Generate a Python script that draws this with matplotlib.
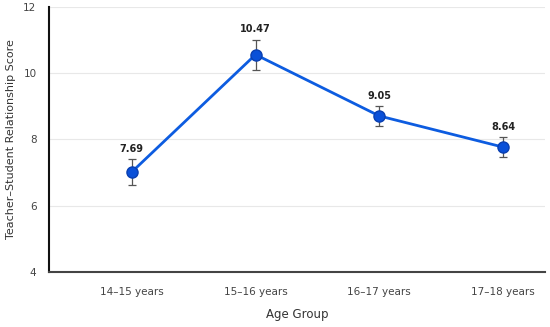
import matplotlib
matplotlib.use("Agg")
import matplotlib.pyplot as plt

categories = ["14–15 years", "15–16 years", "16–17 years", "17–18 years"]
scores = [7.02, 10.56, 8.71, 7.77]
errors = [0.38, 0.45, 0.29, 0.30]
labels = ["7.69", "10.47", "9.05", "8.64"]
yticks = [4, 6, 8, 10, 12]

plt.rcParams['font.family'] = ['DejaVu Sans']
fig = plt.figure(figsize=(5.5, 3.27), dpi=100)
ax = fig.add_axes([0.089, 0.168, 0.902, 0.811])

x = list(range(len(categories)))
ax.errorbar(x, scores, yerr=errors, fmt='none', ecolor='#555555', elinewidth=0.9,
            capsize=3, capthick=0.9, zorder=3)
ax.plot(x, scores, color='#0d5ce0', lw=2.0, marker='o', markersize=8,
        markerfacecolor='#0a50d8', markeredgecolor='#0a3fb0', markeredgewidth=1, zorder=4)
for xi, s, e, lab in zip(x, scores, errors, labels):
    ax.annotate(lab, (xi, s + e), xytext=(0, 4), textcoords='offset points',
                ha='center', va='bottom', fontsize=7, fontweight='bold', color='#222222')

ax.set_xlim(-0.67, 3.34)
ax.set_ylim(4, 12)
ax.set_yticks(yticks)
ax.set_xticks(x)
ax.set_xticklabels(categories)
ax.grid(axis='y', color='#e8e8e8', lw=0.8)
ax.set_axisbelow(True)
ax.tick_params(length=0, labelsize=7.5, labelcolor='#444444')
ax.tick_params(axis='x', pad=11)
ax.tick_params(axis='y', pad=9)
for side in ['top', 'right']:
    ax.spines[side].set_visible(False)
ax.spines['left'].set_color('#111111')
ax.spines['left'].set_linewidth(1.5)
ax.spines['bottom'].set_color('#444444')
ax.spines['bottom'].set_linewidth(1.5)
ax.set_xlabel("Age Group", fontsize=8.5, color='#333333', labelpad=8)
ax.set_ylabel("Teacher–Student Relationship Score", fontsize=8, color='#333333', labelpad=5)

fig.savefig("out.png", dpi=100)
